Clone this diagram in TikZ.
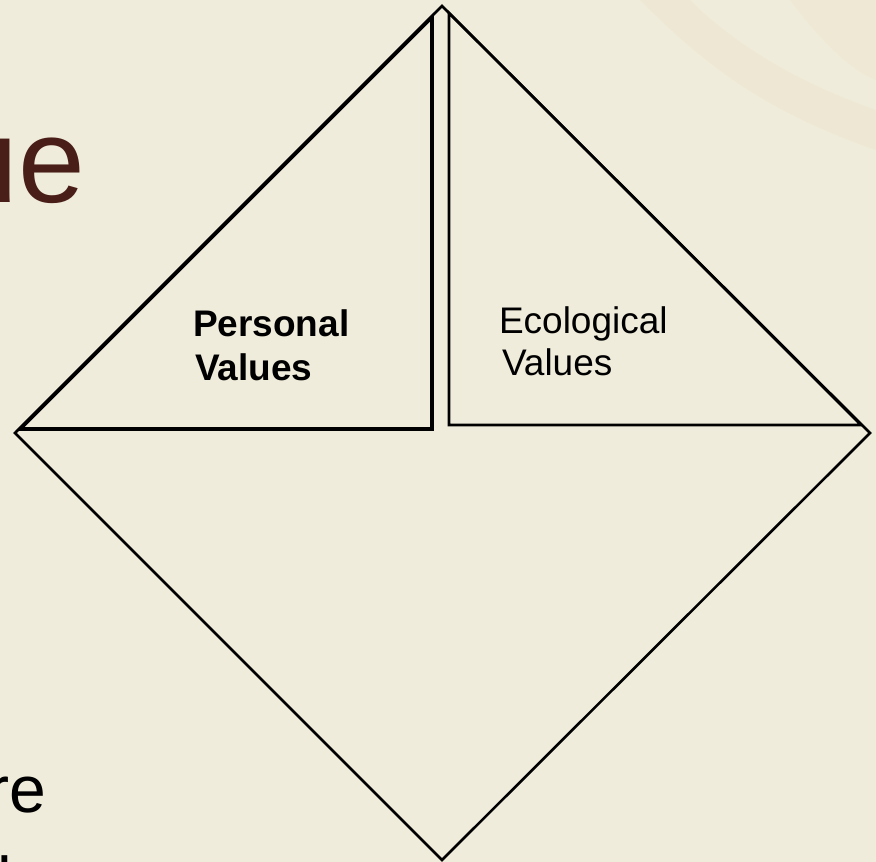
\documentclass[tikz,border=0pt]{standalone}
\usepackage{fontspec}
\setmainfont{Liberation Sans}
\definecolor{bgmarble}{HTML}{F0ECDB}
\definecolor{bgtan}{HTML}{E6D9BD}
\definecolor{titlebrown}{HTML}{4A1E18}
\tikzset{
  frame/.style={draw=black, line width=2.6pt, line join=miter},
  boldframe/.style={draw=black, line width=3.6pt, line join=miter},
  label/.style={inner sep=0pt, outer sep=0pt, font=\fontsize{37}{44}\selectfont, anchor=base west},
  bigtext/.style={inner sep=0pt, outer sep=0pt, anchor=base east}
}
\begin{document}
\begin{tikzpicture}[x=1pt,y=-1pt]
  % background
  \fill[bgmarble] (0,0) rectangle (876,862);
  \useasboundingbox (0,0) rectangle (876,862);
  \fill[bgtan, opacity=0.25] (640,0) .. controls (700,60) and (760,110) .. (876,150) -- (876,110) .. controls (790,80) and (730,40) .. (690,0) -- cycle;
  \fill[bgtan, opacity=0.2] (790,0) .. controls (820,40) and (850,70) .. (876,80) -- (876,0) -- cycle;

  % partial slide texts
  \node[bigtext, text=titlebrown, font=\fontsize{120}{140}\selectfont] (ue) at (85,202) {ue};
  \node[bigtext, text=black, font=\fontsize{66}{78}\selectfont] (re) at (46,812) {re};
  \node[inner sep=0pt, outer sep=0pt, anchor=base west, text=black, font=\fontsize{66}{78}\selectfont] (nextline) at (-2.5,903) {l};

  % diamond
  \coordinate (T) at (442,6);
  \coordinate (R) at (870,433);
  \coordinate (B) at (442,860);
  \coordinate (L) at (15,433);
  \draw[frame] (T) -- (R) -- (B) -- (L) -- cycle;

  % left triangle (Personal Values)
  \coordinate (PL) at (20,429);
  \coordinate (PC) at (432,429);
  \coordinate (PT) at (432,17);
  \draw[boldframe] (PL) -- (PC) -- (PT) -- cycle;

  % right triangle (Ecological Values)
  \coordinate (ET) at (449,13);
  \coordinate (EC) at (449,425);
  \coordinate (ER) at (861,425);
  \draw[frame] (ET) -- (EC) -- (ER) -- cycle;

  % labels
  \node[label, font=\fontsize{37}{44}\selectfont\bfseries] (p1) at (193,336) {Personal};
  \node[label, font=\fontsize{37}{44}\selectfont\bfseries] (p2) at (195,380) {Values};
  \node[label] (e1) at (499,333) {Ecological};
  \node[label] (e2) at (502,375) {Values};
\end{tikzpicture}
\end{document}
